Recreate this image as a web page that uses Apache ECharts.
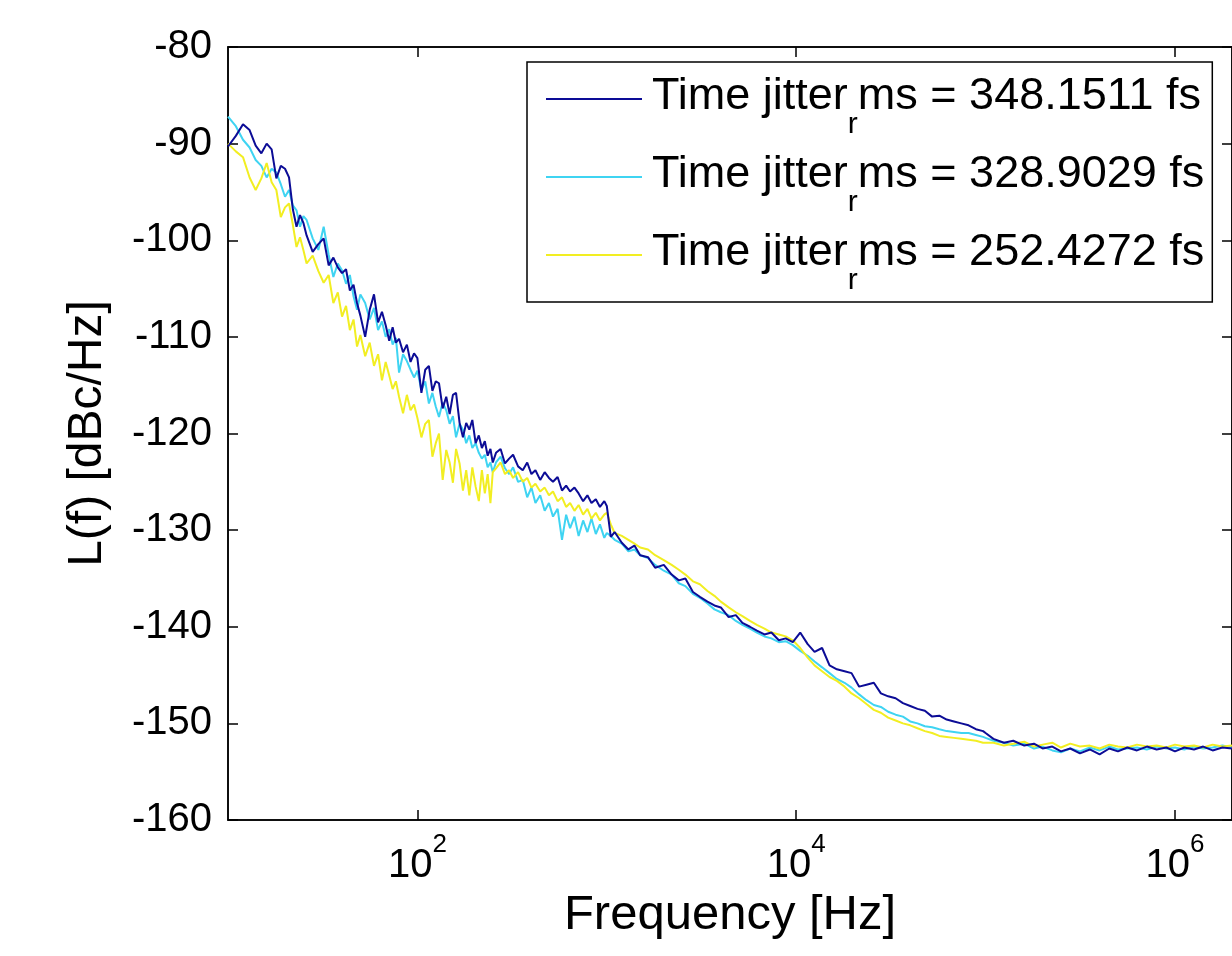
<!DOCTYPE html>
<html>
<head>
<meta charset="utf-8">
<script src="https://cdn.jsdelivr.net/npm/echarts@6/dist/echarts.min.js"></script>
<style>
html,body{margin:0;padding:0;background:#fff;}
#chart{width:1232px;height:956px;}
</style>
</head>
<body>
<div id="chart"></div>
<script>
// ---- data ----
const freqs = [
 10,11,12,13,14,15,16,17,18,19,20,21,22,23,24,25,26,28,30,32,34,36,38,40,42,44,46,48,50,53,56,59,62,65,68,71,74,77,80,84,88,92,96,
 100,105,110,115,120,125,130,136,142,148,154,160,167,174,181,188,195,203,211,219,227,235,243,250,
 260,275,290,305,320,340,360,380,400,420,445,470,495,520,550,580,610,640,675,710,750,790,830,875,920,970,1000,
 1050,1100,1200,1300,1400,1500,1650,1800,2000,2200,2400,2600,2850,3100,3400,3700,4000,4400,4800,5200,5700,6200,6800,7400,8100,8800,9600,
 10500,11500,12500,13700,15000,16400,18000,19600,21500,23500,25700,28000,30600,33500,36600,40000,43700,47800,52200,57000,62300,68100,74400,81300,88900,97000,100000,
 110000,125000,140000,160000,180000,200000,225000,250000,280000,315000,355000,400000,450000,500000,560000,630000,710000,800000,900000,
 1000000,1120000,1260000,1410000,1580000,1780000,2000000
];
const blueValues = [
 -90.3,-89.2,-88.0,-88.6,-90.2,-91.0,-90.0,-90.6,-93.6,-92.3,-92.6,-93.5,-96.8,-98.6,-97.4,-98.2,-99.5,-101.2,-100.4,-99.8,-102.6,-101.8,-102.8,-103.4,-103.0,-105.2,-104.6,-106.5,-107.8,-110.0,-107.2,-105.6,-108.5,-107.4,-108.8,-110.4,-109.0,-110.6,-110.2,-111.6,-110.8,-112.6,-111.7,
 -112.2,-115.8,-113.4,-113.0,-115.6,-114.6,-114.8,-117.4,-116.2,-118.0,-116.0,-115.8,-118.9,-120.4,-118.9,-119.6,-118.6,-121.0,-120.2,-121.5,-120.8,-122.3,-121.6,-123.0,
 -122.0,-121.6,-123.1,-122.6,-122.2,-123.4,-123.8,-123.0,-124.2,-123.8,-124.8,-124.0,-124.6,-125.0,-124.5,-125.9,-125.4,-126.0,-125.6,-126.2,-127.0,-126.4,-127.2,-126.8,-127.6,-127.0,-127.5,
 -130.7,-130.2,-131.3,-132.0,-131.6,-132.6,-132.8,-133.9,-133.6,-134.6,-135.2,-135.0,-136.4,-136.9,-137.4,-137.8,-138.0,-139.0,-138.8,-139.6,-140.0,-140.4,-140.8,-140.6,-141.4,-141.2,-141.6,
 -140.6,-141.8,-142.6,-142.2,-144.0,-144.4,-144.6,-144.8,-146.2,-146.0,-145.8,-146.9,-147.2,-147.4,-147.9,-148.2,-148.5,-148.7,-149.3,-149.2,-149.6,-149.8,-150.0,-150.2,-150.6,-150.8,-151.0,
 -151.6,-152.0,-151.8,-152.3,-152.1,-152.6,-152.4,-152.9,-152.6,-153.1,-152.7,-153.2,-152.6,-152.9,-152.5,-152.8,-152.4,-152.7,-152.5,
 -152.9,-152.5,-152.7,-152.4,-152.8,-152.5,-152.6
];
const cyanValues = [
 -87.2,-88.2,-89.6,-90.4,-91.7,-92.3,-93.5,-92.6,-93.0,-94.2,-95.5,-94.8,-96.4,-96.9,-98.6,-97.5,-97.9,-99.8,-101.0,-98.6,-101.5,-103.8,-102.4,-103.1,-104.5,-103.6,-105.8,-107.2,-105.6,-106.5,-108.2,-107.0,-109.3,-108.4,-110.0,-109.2,-110.8,-110.1,-113.7,-111.8,-112.5,-113.4,-114.2,
 -113.5,-115.5,-114.6,-116.9,-115.8,-117.2,-118.3,-116.8,-117.6,-119.0,-118.2,-120.4,-119.0,-119.6,-121.0,-120.2,-121.5,-121.0,-122.0,-122.6,-122.2,-123.5,-123.0,-124.0,
 -123.0,-122.4,-123.6,-124.2,-123.5,-125.0,-124.8,-126.6,-125.6,-127.2,-126.4,-128.0,-127.2,-128.6,-127.8,-131.0,-128.4,-129.8,-128.6,-130.6,-129.0,-130.2,-128.8,-130.4,-129.4,-130.8,-130.3,
 -130.6,-131.0,-131.4,-132.2,-132.0,-132.6,-132.9,-133.6,-134.2,-134.6,-135.5,-135.8,-136.6,-137.0,-137.6,-138.2,-138.5,-138.8,-139.4,-139.8,-140.2,-140.6,-141.0,-141.2,-141.6,-141.5,-141.9,
 -142.5,-143.0,-143.6,-144.2,-144.8,-145.4,-145.8,-146.3,-147.0,-147.6,-148.1,-148.3,-148.8,-149.1,-149.3,-149.8,-150.0,-150.3,-150.4,-150.6,-150.8,-150.9,-151.0,-151.0,-151.2,-151.4,-151.5,
 -151.8,-152.0,-152.3,-152.1,-152.6,-152.4,-152.8,-153.0,-152.6,-152.9,-152.5,-152.8,-152.4,-152.7,-152.6,-152.5,-152.7,-152.4,-152.6,
 -152.5,-152.7,-152.4,-152.6,-152.5,-152.3,-152.5
];
const yellowValues = [
 -90.0,-90.8,-91.4,-93.5,-94.8,-93.6,-92.0,-94.0,-94.8,-97.6,-96.6,-96.2,-98.4,-100.7,-99.7,-101.0,-102.4,-101.6,-103.2,-104.4,-103.6,-106.5,-105.4,-107.9,-106.8,-109.3,-108.2,-111.0,-109.8,-112.0,-110.6,-113.0,-111.8,-114.5,-112.6,-114.0,-115.4,-114.6,-116.2,-117.9,-116.0,-117.6,-117.0,
 -118.4,-120.4,-119.0,-118.6,-122.4,-121.0,-120.0,-124.8,-121.7,-123.0,-125.1,-121.6,-123.1,-125.9,-123.8,-126.4,-123.5,-125.5,-127.0,-123.8,-126.2,-124.2,-127.2,-124.0,
 -123.6,-123.0,-124.2,-123.8,-124.6,-124.0,-125.0,-124.6,-125.6,-125.2,-126.0,-125.6,-126.4,-126.0,-127.0,-126.6,-127.6,-127.2,-128.0,-127.4,-128.4,-127.8,-128.8,-128.2,-129.0,-128.4,-128.2,
 -129.4,-130.3,-130.6,-131.0,-131.4,-131.8,-132.0,-132.6,-133.1,-133.6,-134.1,-134.6,-135.3,-135.6,-136.3,-136.8,-137.4,-138.0,-138.5,-138.9,-139.4,-139.8,-140.2,-140.6,-140.8,-141.0,-141.4,
 -142.2,-143.2,-144.0,-144.6,-145.2,-145.6,-146.2,-146.9,-147.4,-148.0,-148.6,-148.9,-149.4,-149.7,-150.0,-150.2,-150.5,-150.8,-151.0,-151.3,-151.4,-151.5,-151.6,-151.7,-151.8,-152.0,-152.0,
 -152.0,-152.3,-152.1,-151.9,-152.4,-152.2,-152.0,-152.5,-152.1,-152.4,-152.3,-152.6,-152.2,-152.4,-152.5,-152.2,-152.4,-152.3,-152.5,
 -152.2,-152.4,-152.3,-152.5,-152.2,-152.4,-152.3
];
const jitterValues = ['348.1511', '328.9029', '252.4272'];
const seriesColors = ['#0c0c96', '#3fd4f2', '#f2ee22'];
const xTickValues = [100, 10000, 1000000];
const xTickExponents = ['2', '4', '6'];
const yTicks = [-160, -150, -140, -130, -120, -110, -100, -90, -80];

// ---- build ----
const FONT = 'Liberation Sans, Arial, Helvetica, sans-serif';
const seriesValues = [blueValues, cyanValues, yellowValues];
const names = jitterValues.map(v => 'Time jitter_rms = ' + v + ' fs');
const pairs = vals => freqs.map((f, i) => [f, vals[i]]);

const chart = echarts.init(document.getElementById('chart'), null, {renderer: 'canvas'});
const xBase = {
  type: 'log', logBase: 10, min: 10, max: 2000000,
  splitLine: {show: false},
  axisLine: {show: true, lineStyle: {color: '#000', width: 1.5}},
  axisTick: {show: true, inside: true, length: 10, customValues: xTickValues, lineStyle: {color: '#000', width: 1.5}}
};
const yBase = {
  type: 'value', min: -160, max: -80, interval: 10,
  splitLine: {show: false},
  axisLine: {show: true, lineStyle: {color: '#000', width: 1.5}},
  axisTick: {show: true, inside: true, length: 10, lineStyle: {color: '#000', width: 1.5}}
};
const option = {
  backgroundColor: '#fff',
  animation: false,
  grid: {left: 228, top: 47, bottom: 136, right: -3, show: true, borderColor: '#000', borderWidth: 1.5, containLabel: false},
  legend: {
    orient: 'vertical', left: 527, top: 62,
    padding: [12, 8, 6, 19],
    itemGap: 12,
    itemWidth: 96, itemHeight: 2,
    icon: 'rect',
    backgroundColor: '#fff', borderColor: '#000', borderWidth: 1.5,
    data: names,
    formatter: function (name) {
      const i = names.indexOf(name);
      return '{n|Time jitter}{s|r}{n|ms = ' + jitterValues[i] + ' fs}';
    },
    textStyle: {
      padding: [0, 0, 0, 5],
      rich: {
        n: {fontFamily: FONT, fontSize: 45, color: '#000', lineHeight: 50, verticalAlign: 'top'},
        s: {fontFamily: FONT, fontSize: 30, color: '#000', lineHeight: 30, verticalAlign: 'top', padding: [36, 0, 0, 0]}
      }
    }
  },
  xAxis: [
    Object.assign({}, xBase, {
      position: 'bottom',
      name: 'Frequency [Hz]', nameLocation: 'middle', nameGap: 64,
      nameTextStyle: {fontFamily: FONT, fontSize: 49, color: '#000'},
      axisLabel: {
        show: true, margin: 12, customValues: xTickValues,
        formatter: function (v) {
          const i = xTickValues.indexOf(v);
          return '{b|10}{s|' + (i >= 0 ? xTickExponents[i] : '') + '}';
        },
        rich: {
          b: {fontFamily: FONT, fontSize: 40, color: '#000', lineHeight: 44, verticalAlign: 'top', padding: [14, 0, 0, 0]},
          s: {fontFamily: FONT, fontSize: 26, color: '#000', lineHeight: 28, verticalAlign: 'top'}
        }
      }
    }),
    Object.assign({}, xBase, {position: 'top', axisLabel: {show: false}})
  ],
  yAxis: [
    Object.assign({}, yBase, {
      position: 'left',
      name: 'L(f) [dBc/Hz]', nameLocation: 'middle', nameGap: 116,
      nameTextStyle: {fontFamily: FONT, fontSize: 48, color: '#000'},
      axisLabel: {show: true, margin: 16, fontFamily: FONT, fontSize: 40, color: '#000',
        customValues: yTicks}
    }),
    Object.assign({}, yBase, {position: 'right', axisLabel: {show: false}})
  ],
  series: names.map((n, i) => ({
    name: n, type: 'line', xAxisIndex: 0, yAxisIndex: 0,
    data: pairs(seriesValues[i]),
    showSymbol: false, symbol: 'none',
    lineStyle: {color: seriesColors[i], width: 2},
    itemStyle: {color: seriesColors[i]},
    z: i === 0 ? 4 : 3,
    clip: true
  }))
};
chart.setOption(option);
</script>
</body>
</html>
